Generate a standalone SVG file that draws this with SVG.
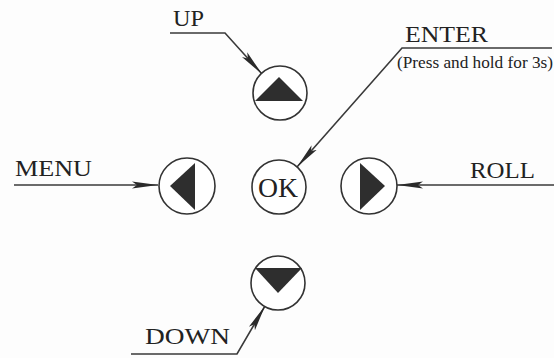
<svg xmlns="http://www.w3.org/2000/svg" width="554" height="358" viewBox="0 0 554 358">
<style>
.bg{fill:#fdfdfd}
.btn{fill:#fff;stroke:#333;stroke-width:1.6}
.tri{fill:#2e2e2e}
.lbl{font-family:"Liberation Serif",serif;font-size:24px;fill:#222}
.ok{font-family:"Liberation Serif",serif;font-size:28px;fill:#222}
.sub{font-family:"Liberation Serif",serif;font-size:16px;fill:#222}
.con{fill:none;stroke:#3a3a3a;stroke-width:1.6}
</style>
<defs>
<marker id="ah" markerUnits="userSpaceOnUse" markerWidth="28" markerHeight="10" refX="26" refY="4.5" orient="auto">
<path d="M0,1 L26,4.5 L0,8 L5,4.5 z" fill="#2a2a2a"/>
</marker>
</defs>
<rect class="bg" x="0" y="0" width="554" height="358"/>
<g id="connectors">
<polyline class="con" points="170,33 225,33 262,74" marker-end="url(#ah)"/>
<polyline class="con" points="552,48 402,48 297,167" marker-end="url(#ah)"/>
<polyline class="con" points="14,185 158,185" marker-end="url(#ah)"/>
<polyline class="con" points="554,185 397,185" marker-end="url(#ah)"/>
<polyline class="con" points="131,354 237,354 265,306" marker-end="url(#ah)"/>
</g>
<g id="up">
<circle class="btn" cx="280" cy="93" r="27"/>
<polygon class="tri" points="279,77 255,101 303,101"/>
<text class="lbl" x="173" y="26" textLength="31" lengthAdjust="spacingAndGlyphs">UP</text>
</g>
<g id="enter">
<circle class="btn" cx="279" cy="187" r="27"/>
<text class="ok" x="278" y="197" text-anchor="middle" textLength="40" lengthAdjust="spacingAndGlyphs">OK</text>
<text class="lbl" x="405" y="42" textLength="83" lengthAdjust="spacingAndGlyphs">ENTER</text>
<text class="sub" x="397" y="68" textLength="156" lengthAdjust="spacingAndGlyphs">(Press and hold for 3s)</text>
</g>
<g id="menu">
<circle class="btn" cx="187" cy="186" r="28"/>
<polygon class="tri" points="170,186 195,163 195,210"/>
<text class="lbl" x="15" y="176" textLength="77" lengthAdjust="spacingAndGlyphs">MENU</text>
</g>
<g id="roll">
<circle class="btn" cx="369" cy="186" r="28"/>
<polygon class="tri" points="385,186 360,163 360,210"/>
<text class="lbl" x="470" y="178" textLength="65" lengthAdjust="spacingAndGlyphs">ROLL</text>
</g>
<g id="down">
<circle class="btn" cx="278" cy="283" r="27"/>
<polygon class="tri" points="255,268 302,268 278,293"/>
<text class="lbl" x="145" y="344" textLength="85" lengthAdjust="spacingAndGlyphs">DOWN</text>
</g>
</svg>
